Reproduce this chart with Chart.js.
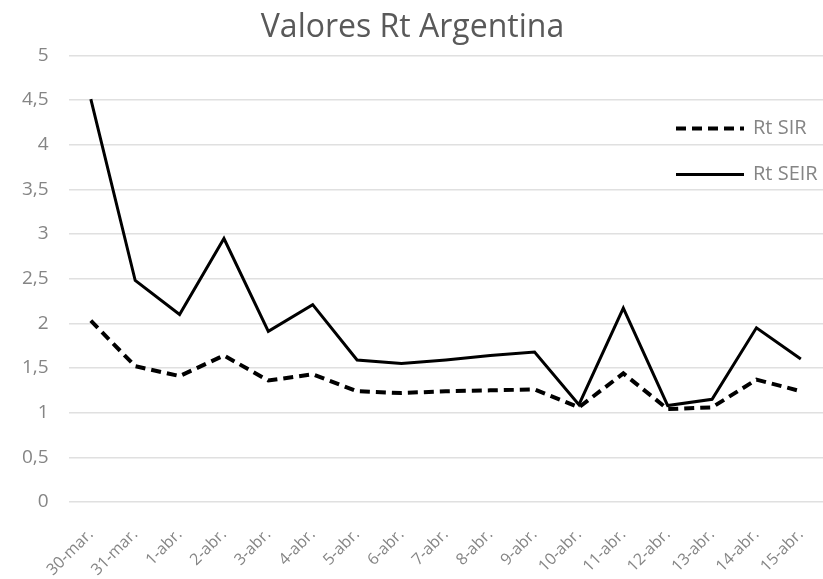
<!DOCTYPE html>
<html>
<head>
<meta charset="utf-8">
<script src="https://cdn.jsdelivr.net/npm/chart.js@4.4.0/dist/chart.umd.min.js"></script>
<style>
  html, body { margin: 0; padding: 0; background: #fff; }
  #wrap { width: 823px; height: 579px; }
</style>
</head>
<body>
<div id="wrap"><canvas id="rtChart"></canvas></div>
<script>
const fechas = ['30-mar.', '31-mar.', '1-abr.', '2-abr.', '3-abr.', '4-abr.', '5-abr.', '6-abr.',
    '7-abr.', '8-abr.', '9-abr.', '10-abr.', '11-abr.', '12-abr.', '13-abr.', '14-abr.', '15-abr.'];
const rtSIR = [2.03, 1.52, 1.41, 1.64, 1.36, 1.43, 1.24, 1.22, 1.24, 1.25, 1.26, 1.06, 1.44, 1.04, 1.06, 1.37, 1.24];
const rtSEIR = [4.51, 2.48, 2.1, 2.95, 1.91, 2.21, 1.59, 1.55, 1.59, 1.64, 1.68, 1.09, 2.17, 1.08, 1.15, 1.95, 1.6];

const GRIS = '#858585';

// leyenda dibujada dentro del área del gráfico, a la derecha
const leyendaInterna = {
    id: 'leyendaInterna',
    afterDraw(chart) {
        const ctx = chart.ctx;
        const area = chart.chartArea;
        const x1 = area.right - 147, x2 = area.right - 79;
        const filas = [area.top + 73, area.top + 119];
        chart.data.datasets.forEach((ds, i) => {
            const y = filas[i];
            ctx.save();
            ctx.strokeStyle = ds.borderColor;
            ctx.lineWidth = ds.borderWidth;
            ctx.setLineDash(ds.borderDash || []);
            ctx.beginPath();
            ctx.moveTo(x1, y);
            ctx.lineTo(x2, y);
            ctx.stroke();
            ctx.setLineDash([]);
            ctx.fillStyle = GRIS;
            ctx.font = '20px "Open Sans"';
            ctx.textBaseline = 'middle';
            ctx.fillText(ds.label, x2 + 9, y);
            ctx.restore();
        });
    }
};

const ctx = document.getElementById('rtChart').getContext('2d');
new Chart(ctx, {
    type: 'line',
    data: {
        labels: fechas,
        datasets: [
            {
                label: 'Rt SIR',
                data: rtSIR,
                borderColor: '#000',
                borderWidth: 4,
                borderDash: [10, 6],
                pointRadius: 0,
                fill: false,
                tension: 0
            },
            {
                label: 'Rt SEIR',
                data: rtSEIR,
                borderColor: '#000',
                borderWidth: 3,
                pointRadius: 0,
                fill: false,
                tension: 0
            }
        ]
    },
    options: {
        responsive: true,
        maintainAspectRatio: false,
        animation: false,
        layout: { padding: { left: 2, right: 0, top: 0, bottom: 2 } },
        plugins: {
            legend: { display: false },
            tooltip: { enabled: false },
            title: {
                display: true,
                text: 'Valores Rt Argentina',
                color: '#595959',
                font: { family: 'Open Sans', size: 32, weight: 'normal' },
                padding: { top: 9, bottom: 8 }
            }
        },
        scales: {
            x: {
                offset: true,
                grid: { display: false },
                border: { display: false },
                ticks: {
                    color: GRIS,
                    font: { family: 'Open Sans', size: 16 },
                    maxRotation: 45,
                    minRotation: 45,
                    autoSkip: false,
                    padding: 15
                },
                afterFit(scale) {
                    scale.height = 75;
                    scale.paddingLeft = 0;
                    scale.paddingRight = 0;
                }
            },
            y: {
                min: 0,
                max: 5,
                border: { display: false },
                grid: { color: '#e0e0e0', lineWidth: 1.5, drawTicks: false },
                ticks: {
                    stepSize: 0.5,
                    color: GRIS,
                    padding: 20,
                    font: { family: 'Open Sans', size: 19 },
                    callback: v => String(v).replace('.', ',')
                }
            }
        }
    },
    plugins: [leyendaInterna]
});
</script>
</body>
</html>
